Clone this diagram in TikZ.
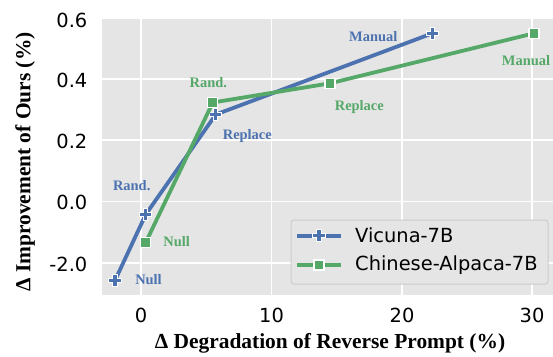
\documentclass[tikz,border=0pt]{standalone}
\usepackage{fontspec}
\newfontfamily\djv{DejaVu Sans}
\newfontfamily\tms{Liberation Serif}
\definecolor{vblue}{HTML}{4C72B0}
\definecolor{agreen}{HTML}{55A868}
\definecolor{bggray}{HTML}{E5E5E5}
\definecolor{legedge}{HTML}{CCCCCC}
\tikzset{
  gridline/.style={white,line width=1.3bp},
  ticklab/.style={inner sep=0pt,font=\djv\fontsize{19.5}{20}\selectfont},
  axlab/.style={inner sep=0pt,font=\tms\bfseries\fontsize{21.5}{23}\selectfont},
  ptlab/.style={inner sep=0pt,font=\tms\bfseries\fontsize{14.5}{15}\selectfont},
  series/.style={line width=3.8bp,line join=round,line cap=butt},
  legtext/.style={inner sep=0pt,anchor=west,font=\djv\fontsize{19.5}{20}\selectfont},
  plusmark/.pic={
    \draw[white,line width=5.2bp] (-6.6,0)--(6.6,0) (0,-6.6)--(0,6.6);
    \draw[vblue,line width=3.1bp] (-5.6,0)--(5.6,0) (0,-5.6)--(0,5.6);
  },
  sqmark/.style={rectangle,fill=agreen,draw=white,line width=1.1bp,minimum size=10bp,inner sep=0pt}
}
\begin{document}
\begin{tikzpicture}[x=1bp,y=-1bp]
\useasboundingbox (0,0) rectangle (553,356);
% plot area
\fill[bggray] (101.5,19) rectangle (553,295);
\foreach \gx in {141,271.5,402,532} \draw[gridline] (\gx,19) -- (\gx,295);
\foreach \gy in {79,140,201.5,263} \draw[gridline] (101.5,\gy) -- (553,\gy);
% tick labels
\node[ticklab,anchor=east] (y6) at (87.5,20) {0.6};
\node[ticklab,anchor=east] (y4) at (87.5,80) {0.4};
\node[ticklab,anchor=east] (y2) at (87.5,141) {0.2};
\node[ticklab,anchor=east] (y0) at (87.5,202) {0.0};
\node[ticklab,anchor=east] (ym) at (87.5,264) {-2.0};
\node[ticklab] (x0) at (141,315) {0};
\node[ticklab] (x1) at (271.5,315) {10};
\node[ticklab] (x2) at (402,315) {20};
\node[ticklab] (x3) at (532,315) {30};
% axis labels
\node[axlab] (xl) at (330,343) {Δ Degradation of Reverse Prompt (\%)};
\node[axlab,rotate=90] (yl) at (25,162) {Δ Improvement of Ours (\%)};
% data points
\coordinate (vN) at (115,280.5);
\coordinate (vR) at (145.8,214.3);
\coordinate (vP) at (215.8,114.5);
\coordinate (vM) at (432.5,33.3);
\coordinate (aN) at (145.8,242.3);
\coordinate (aR) at (212.8,102.5);
\coordinate (aP) at (330,83.3);
\coordinate (aM) at (534,33.3);
% blue series
\draw[series,vblue] (vN) -- (vR) -- (vP) -- (vM);
\foreach \p in {vN,vR,vP,vM} \pic at (\p) {plusmark};
% green series
\draw[series,agreen] (aN) -- (aR) -- (aP) -- (aM);
\foreach \p in {aN,aR,aP,aM} \node[sqmark] at (\p) {};
% point labels
\node[ptlab,text=vblue] (lvN) at (148.5,280) {Null};
\node[ptlab,text=vblue] (lvR) at (131.7,186) {Rand.};
\node[ptlab,text=vblue] (lvP) at (247.3,136) {Replace};
\node[ptlab,text=vblue] (lvM) at (373.3,37) {Manual};
\node[ptlab,text=agreen] (laN) at (176.7,242) {Null};
\node[ptlab,text=agreen] (laR) at (208.3,83) {Rand.};
\node[ptlab,text=agreen] (laP) at (359.3,107.5) {Replace};
\node[ptlab,text=agreen] (laM) at (526,61) {Manual};
% legend
\draw[legedge,fill=bggray,rounded corners=3bp,line width=1bp] (291,220) rectangle (548,284);
\coordinate (l1a) at (297,235.7); \coordinate (l1b) at (341,235.7); \coordinate (l1m) at (319,235.7);
\coordinate (l2a) at (297,265); \coordinate (l2b) at (341,265); \coordinate (l2m) at (319,265);
\draw[series,vblue] (l1a) -- (l1b);
\pic at (l1m) {plusmark};
\draw[series,agreen] (l2a) -- (l2b);
\node[sqmark] at (l2m) {};
\node[legtext] (lt1) at (355,235.7) {Vicuna-7B};
\node[legtext] (lt2) at (355,265) {Chinese-Alpaca-7B};
\end{tikzpicture}
\end{document}
